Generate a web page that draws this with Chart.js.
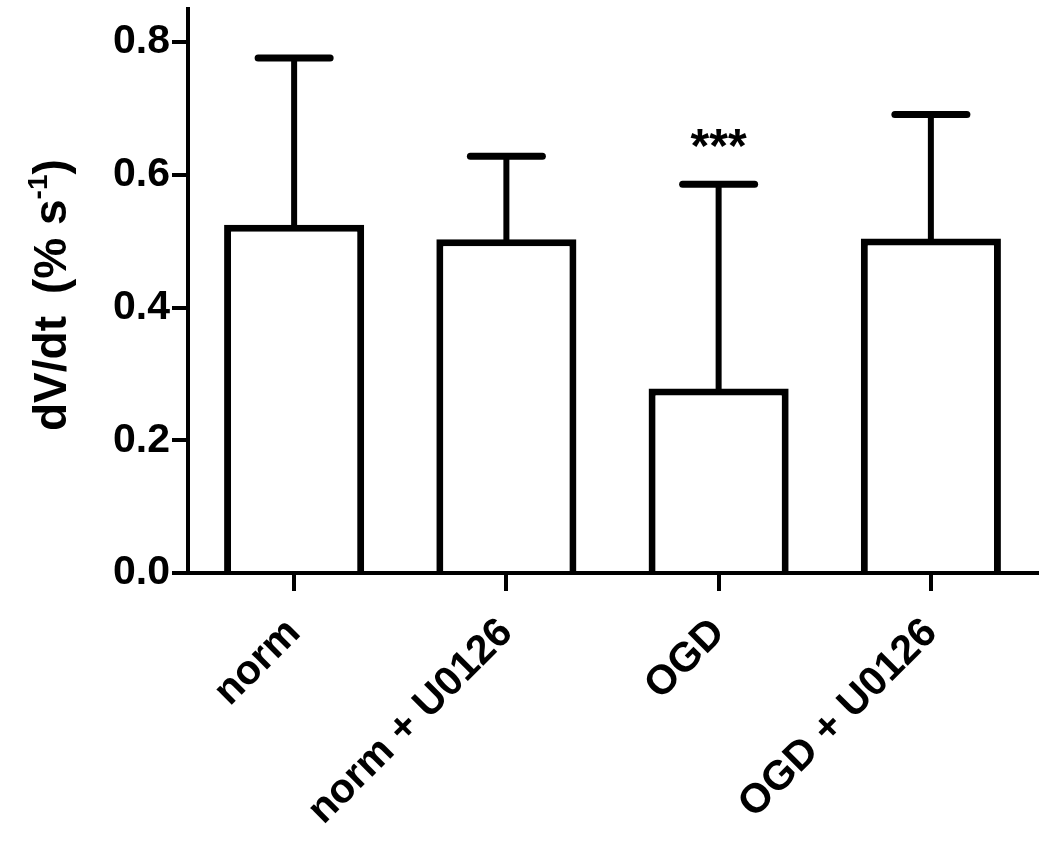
<!DOCTYPE html>
<html>
<head>
<meta charset="utf-8">
<script src="https://cdn.jsdelivr.net/npm/chart.js@4.4.1/dist/chart.umd.min.js"></script>
<style>
  html, body { margin: 0; padding: 0; background: #fff; }
  #wrap { width: 1050px; height: 844px; }
</style>
</head>
<body>
<div id="wrap"><canvas id="myChart" width="1050" height="844"></canvas></div>
<script>
// data
const groups = ["norm", "norm + U0126", "OGD", "OGD + U0126"];
const means = [0.525, 0.503, 0.278, 0.504];
const sem = [0.251, 0.125, 0.308, 0.187];
const stars = ["", "", "***", ""];
const yTickValues = [0, 0.2, 0.4, 0.6, 0.8];
const yTitleA = "dV/dt";
const yTitleB = "(% s";
const yTitleSup = "-1";
const yTitleC = ")";

const FONT = "'Liberation Sans', Arial, Helvetica, sans-serif";

// upper error bars, significance stars and the y axis title
const extras = {
  id: "extras",
  afterDatasetsDraw(chart) {
    const ctx = chart.ctx;
    const x = chart.scales.x;
    const y = chart.scales.y;
    ctx.save();
    ctx.strokeStyle = "#000";
    ctx.lineCap = "round";
    for (let i = 0; i < means.length; i++) {
      const cx = x.getPixelForValue(i);
      const yb = y.getPixelForValue(means[i]) + 3;
      const yt = y.getPixelForValue(means[i] + sem[i]);
      ctx.lineWidth = 6;
      ctx.beginPath();
      ctx.moveTo(cx, yb);
      ctx.lineTo(cx, yt);
      ctx.stroke();
      ctx.lineWidth = 7;
      ctx.beginPath();
      ctx.moveTo(cx - 36, yt);
      ctx.lineTo(cx + 36, yt);
      ctx.stroke();
      if (stars[i]) {
        ctx.fillStyle = "#000";
        ctx.font = "bold 48px " + FONT;
        ctx.textAlign = "center";
        ctx.textBaseline = "alphabetic";
        ctx.fillText(stars[i], cx, yt - 22);
      }
    }
    // rotated y title with superscript
    ctx.translate(66, 0);
    ctx.rotate(-Math.PI / 2);
    ctx.fillStyle = "#000";
    ctx.textAlign = "left";
    ctx.textBaseline = "alphabetic";
    let sx = -431;
    ctx.font = "bold 46px " + FONT;
    ctx.fillText(yTitleA, sx, 0);
    sx += ctx.measureText(yTitleA).width + 22;
    ctx.fillText(yTitleB, sx, 0);
    sx += ctx.measureText(yTitleB).width;
    ctx.font = "bold 28px " + FONT;
    ctx.fillText(yTitleSup, sx, -19);
    sx += ctx.measureText(yTitleSup).width;
    ctx.font = "bold 46px " + FONT;
    ctx.fillText(yTitleC, sx, 0);
    ctx.restore();
  }
};

const ctx = document.getElementById("myChart");
new Chart(ctx, {
  type: "bar",
  data: {
    labels: groups,
    datasets: [
      {
        data: means,
        backgroundColor: "#ffffff",
        borderColor: "#000000",
        borderWidth: 7,
        borderSkipped: "bottom",
        categoryPercentage: 1.0,
        barPercentage: 0.66,
      },
    ],
  },
  options: {
    responsive: false,
    animation: false,
    events: [],
    layout: { padding: { top: 9, right: 13, left: 0, bottom: 0 } },
    plugins: {
      legend: { display: false },
      tooltip: { enabled: false },
    },
    scales: {
      x: {
        grid: {
          offset: false,
          drawOnChartArea: false,
          drawTicks: true,
          tickLength: 18,
          color: "#000",
          lineWidth: 4,
        },
        border: { display: true, color: "#000", width: 4 },
        ticks: {
          color: "#000",
          font: { family: FONT, size: 41, weight: "bold" },
          minRotation: 45,
          maxRotation: 45,
          padding: 18,
        },
        afterFit(scale) {
          scale.height = 271;
          scale.paddingLeft = 0;
          scale.paddingRight = 0;
        },
      },
      y: {
        min: 0,
        max: 0.85,
        grid: {
          drawOnChartArea: false,
          drawTicks: true,
          tickLength: 16,
          color: "#000",
          lineWidth: 4,
        },
        border: { display: true, color: "#000", width: 4 },
        ticks: {
          color: "#000",
          includeBounds: false,
          font: { family: FONT, size: 41, weight: "bold" },
          padding: 2,
          callback: (v) => v.toFixed(1),
        },
        afterBuildTicks(scale) {
          scale.ticks = yTickValues.map((v) => ({ value: v }));
        },
        afterFit(scale) {
          scale.width = 188;
          scale.paddingTop = 0;
          scale.paddingBottom = 0;
        },
      },
    },
  },
  plugins: [extras],
});
</script>
</body>
</html>
